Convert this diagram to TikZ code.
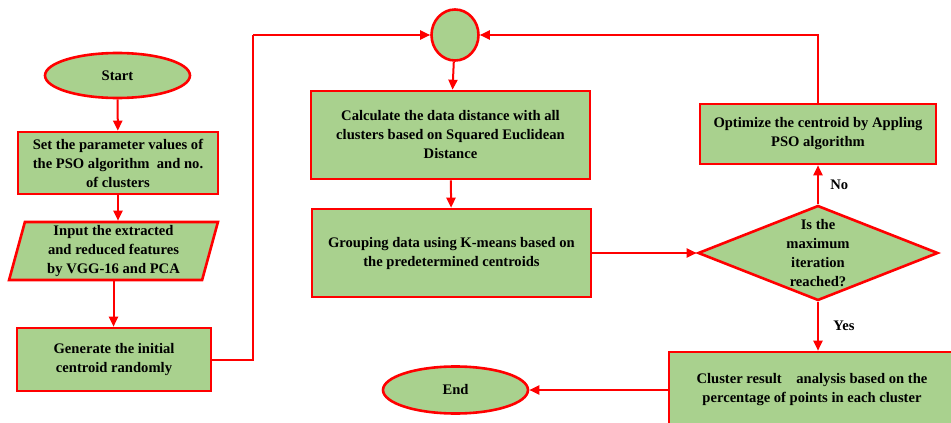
\documentclass[tikz,border=0pt]{standalone}
\usepackage{fontspec}
\setmainfont{Liberation Serif}
\usetikzlibrary{shapes.geometric,arrows.meta}
\definecolor{leaf}{RGB}{169,209,142}

\tikzset{
    txt/.style={font=\bfseries\fontsize{14.6}{19}\selectfont, align=center},
    box/.style={txt, rectangle, draw=red, fill=leaf, line width=2.6pt, inner sep=0pt},
    term/.style={txt, ellipse, draw=red, fill=leaf, line width=2.6pt, inner sep=0pt},
    datain/.style={txt, trapezium, trapezium left angle=77, trapezium right angle=103,
        trapezium stretches=true, draw=red, fill=leaf, line width=2.6pt, inner sep=0pt},
    decide/.style={diamond, draw=red, fill=leaf, line width=2.6pt, inner sep=0pt},
    flow/.style={draw=red, line width=2pt, -{Triangle[length=10pt,width=9pt]}},
    link/.style={draw=red, line width=2pt}
}

\begin{document}
\begin{tikzpicture}[x=1pt, y=-1pt]
        \useasboundingbox (0, 0) rectangle (951, 423);
        \clip (0, 0) rectangle (951, 423);
        % left column
        \node[term, minimum width=145, minimum height=45](start)at(117.5, 75.5){Start};
        \node[box, minimum width=200, minimum height=62](param)at(118, 163){Set the parameter values of\\the PSO algorithm\ \ and no.\\of clusters};
        \node[datain, minimum width=209, minimum height=58](input)at(113.5, 251){Input the extracted\\and reduced features\\by VGG-16 and PCA};
        \node[box, minimum width=194, minimum height=63](gen)at(114, 359.5){Generate the initial\\centroid randomly};
        % middle column
        \node[ellipse, draw=red, fill=leaf, line width=2.6pt, minimum width=47, minimum height=51](hub)at(455, 35){};
        \node[box, minimum width=279, minimum height=88](calc)at(450.5, 135){Calculate the data distance with all\\clusters based on Squared Euclidean\\Distance};
        \node[box, minimum width=279, minimum height=88](group)at(451.5, 253){Grouping data using K-means based on\\the predetermined centroids};
        \node[term, minimum width=145, minimum height=47](stop)at(455.5, 390){End};
        % right column
        \node[box, minimum width=236, minimum height=60](optim)at(818, 134){Optimize the centroid by Appling\\PSO algorithm};
        \node[decide, minimum width=240, minimum height=95](check)at(818, 253){};
        \node[txt](question)at(check){Is the\\maximum\\iteration\\reached?};
        \node[box, minimum width=286, minimum height=76](result)at(812, 390){Cluster result\ \ \ \ analysis based on the\\percentage of points in\ each cluster};
        \coordinate (bend) at (253, 35);

        \draw[flow] (start) -- (param);
        \draw[flow] (param.south) -- (param.south |- input.north);
        \draw[flow] (input.south) -- (input.south |- gen.north);
        \draw[link] (gen.east) -| (bend);
        \draw[flow] (bend) -- (hub.west);
        \draw[flow] (hub) -- (calc);
        \draw[flow] (calc) -- (group);
        \draw[flow] (group.east) -- (check.west);
        \draw[flow] (check.north) -- node[txt, right=8pt](no){No} (optim.south);
        \draw[flow] (optim.north) |- (hub.east);
        \draw[flow] (check.south) -- node[txt, right=11pt](yes){Yes} (check.south |- result.north);
        \draw[flow] (result.west) -- (stop.east);
    \end{tikzpicture}
\end{document}
